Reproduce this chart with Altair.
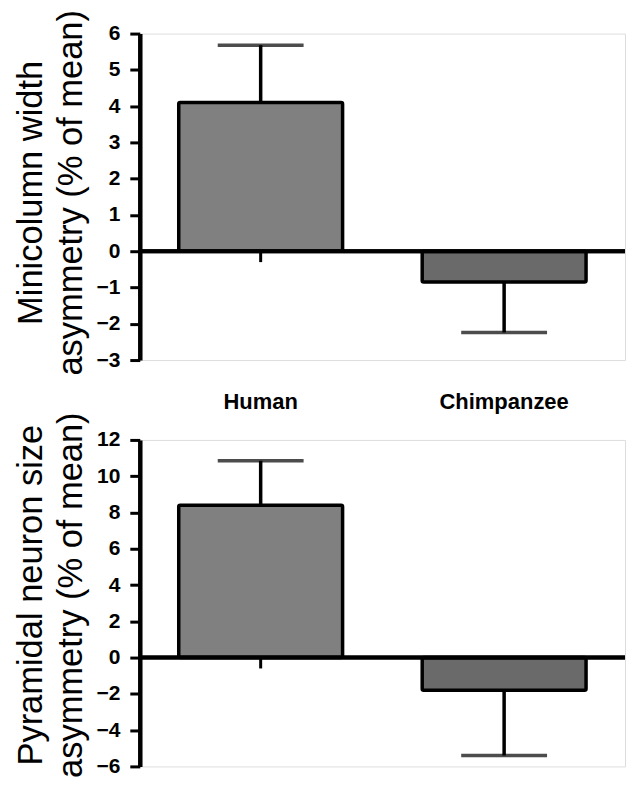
import altair as alt
import pandas as pd

# ---- data ----
species = ["Human", "Chimpanzee"]
bar_fill = ["#808080", "#6a6a6a"]

minicol_mean = [4.1, -0.85]
minicol_err_end = [5.68, -2.24]
minicol_ticks = [-3, -2, -1, 0, 1, 2, 3, 4, 5, 6]
minicol_title = ["Minicolumn width", "asymmetry (% of mean)"]

pyr_mean = [8.4, -1.8]
pyr_err_end = [10.85, -5.4]
pyr_ticks = [-6, -4, -2, 0, 2, 4, 6, 8, 10, 12]
pyr_title = ["Pyramidal neuron size", "asymmetry (% of mean)"]

FONT = "Liberation Sans"
W, H = 486, 327


def panel(means, ends, ticks, title, depth, show_labels, title_shift):
    df = pd.DataFrame({
        "species": species,
        "mean": means,
        "end": ends,
        "zero": [0, 0],
        "depth": [depth, depth],
    })
    xenc = alt.X(
        "species:N",
        sort=species,
        scale=alt.Scale(paddingInner=0.327, paddingOuter=0.16),
        axis=alt.Axis(
            title=None, labels=show_labels, ticks=False, domain=False,
            labelAngle=0, labelFont=FONT, labelFontSize=22,
            labelFontWeight="bold", labelPadding=32, labelColor="black",
        ),
    )
    yscale = alt.Scale(domain=[ticks[0], ticks[-1]], nice=False, zero=False)
    yaxis = alt.Axis(
        values=ticks, title=title, grid=False,
        domainColor="black", domainWidth=4.5,
        tickColor="black", tickWidth=3, tickSize=10,
        labelFont=FONT, labelFontSize=21, labelFontWeight="bold",
        labelColor="black", labelPadding=10,
        titleFont=FONT, titleFontSize=34.5, titleFontWeight="normal",
        titleColor="black", titleLineHeight=40,
        titleX=-125, titleY=H / 2 - title_shift, titleBaseline="top",
    )
    fill = alt.Color(
        "species:N",
        scale=alt.Scale(domain=species, range=bar_fill),
        legend=None,
    )
    base = alt.Chart(df)
    err = base.mark_rule(color="black", strokeWidth=3.5).encode(
        x=xenc, y=alt.Y("mean:Q", scale=yscale, axis=yaxis), y2="end:Q"
    )
    bars = base.mark_bar(
        stroke="black", strokeWidth=3.5, cornerRadius=1.5, opacity=1
    ).encode(
        x=xenc, y=alt.Y("mean:Q", scale=yscale, axis=yaxis), y2="zero:Q",
        fill=fill,
    )
    caps = base.mark_tick(
        color="black", size=86, thickness=3.5, orient="horizontal"
    ).encode(x=xenc, y=alt.Y("end:Q", scale=yscale, axis=yaxis))
    zero_line = base.mark_rule(color="black", strokeWidth=4).encode(
        y=alt.Y("zero:Q", scale=yscale, axis=yaxis),
        x=alt.value(0), x2=alt.value(W),
    )
    cat_tick = base.transform_filter(
        alt.datum.species == "Human"
    ).mark_rule(color="black", strokeWidth=3).encode(
        x=xenc, y=alt.Y("zero:Q", scale=yscale, axis=yaxis), y2="depth:Q"
    )
    return alt.layer(err, bars, caps, zero_line, cat_tick).properties(
        width=W, height=H
    )


top = panel(minicol_mean, minicol_err_end, minicol_ticks, minicol_title, -0.3, True, 4.5)
bottom = panel(pyr_mean, pyr_err_end, pyr_ticks, pyr_title, -0.6, False, 8.5)

chart = alt.vconcat(top, bottom, spacing=80, bounds="flush").properties(
    padding={"left": 5, "top": 0, "right": 0, "bottom": 0}
).configure_view(strokeWidth=0).configure(background="white")

chart.save("out.html", embed_options={"renderer": "svg", "actions": False})
